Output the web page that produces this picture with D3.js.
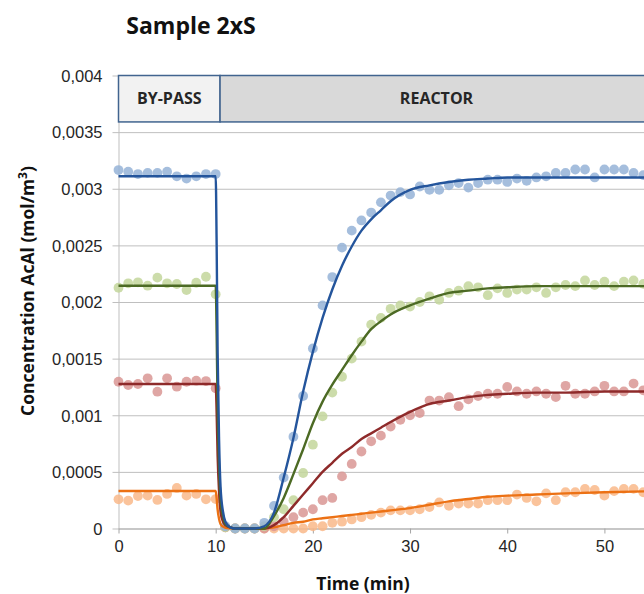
<!DOCTYPE html>
<html>
<head>
<meta charset="utf-8">
<script src="https://cdn.jsdelivr.net/npm/d3@7"></script>
<style>
	body { margin: 0; background: #ffffff; }
	#chart { position: absolute; left: 0; top: 0; width: 644px; height: 594px; overflow: hidden; }
</style>
</head>
<body>
<div id="chart"></div>
<script>
"use strict"

// measured samples, one per minute
var sampleTime = [0,1,2,3,4,5,6,7,8,9,10,11,12,13,14,15,16,17,18,19,20,21,22,23,24,25,26,27,
	28,29,30,31,32,33,34,35,36,37,38,39,40,41,42,43,44,45,46,47,48,49,50,51,52,53,54];

var blueSamples = [0.003165,0.00315,0.00313,0.00314,0.00314,0.00315,0.00311,0.00309,0.00311,0.00313,0.00313,
	0.00002,0,0,0,0.00005,0.0002,0.00045,0.00081,0.00117,0.00159,0.00197,0.00222,0.00248,0.00263,0.00272,
	0.00279,0.00288,0.00294,0.00297,0.00295,0.00302,0.00299,0.00299,0.00303,0.00305,0.00301,0.00305,0.00308,
	0.00308,0.00306,0.00309,0.00307,0.0031,0.00311,0.00314,0.00314,0.00317,0.00317,0.0031,0.00317,0.00317,
	0.00317,0.00314,0.00312];

var greenSamples = [0.002126,0.002165,0.002174,0.002144,0.002215,0.002165,0.002159,0.002106,0.00217,0.002223,0.002068,
	0.00001,0,0,0,0.00002,0.0001,0.00017,0.00025,0.00049,0.00074,0.00099,0.0012,0.00134,0.0015,0.00165,
	0.0018,0.00186,0.00194,0.00197,0.00196,0.002,0.00205,0.00202,0.00208,0.0021,0.00214,0.00213,0.00206,
	0.00212,0.00208,0.00211,0.00211,0.00213,0.00208,0.00213,0.00215,0.00214,0.00219,0.00215,0.00218,0.00214,
	0.00218,0.00219,0.00216];

var redSamples = [0.001296,0.001267,0.001276,0.001326,0.001208,0.001326,0.001252,0.001296,0.001305,0.001302,0.001238,
	0.00001,0,0,0,0,0.00002,0.00006,0.0001,0.00014,0.00017,0.00025,0.00027,0.00046,0.00057,0.00068,
	0.00077,0.00082,0.0009,0.00096,0.001,0.00102,0.00113,0.00113,0.00116,0.00108,0.00114,0.00117,0.00119,
	0.00119,0.00125,0.00121,0.00119,0.00121,0.00119,0.00116,0.00126,0.00119,0.00119,0.00121,0.00126,0.00121,
	0.00121,0.00128,0.00122];

var orangeSamples = [0.000258,0.000246,0.000287,0.00029,0.000252,0.000305,0.000358,0.00029,0.000305,0.000258,0.00026,
	0.00001,0,0,0,0,0,0,0,0,0.00002,0.00002,0.00005,0.00006,0.00008,0.0001,
	0.00012,0.00014,0.00016,0.00016,0.00016,0.00017,0.00019,0.00023,0.0002,0.00022,0.00022,0.00022,0.00025,
	0.00025,0.00025,0.0003,0.00027,0.00024,0.00031,0.00025,0.00032,0.00032,0.00035,0.00034,0.00029,0.00033,
	0.00035,0.00035,0.00032];

// model curves
var fitTime = [0,10,10.1,10.2,10.35,10.5,10.75,11,11.5,12,13,14,15,16,17,18,19,20,21,22,23,24,25,26,27,28,
	30,32,34,36,38,40,43,46,50,55];

var blueFit = [0.00311,0.00311,0.0025,0.00155,0.00078,0.00037,0.00015,0.00006,0.00001,0,0,0,0.00002,0.00014,
	0.00045,0.0008,0.00121,0.00156,0.00186,0.00211,0.00232,0.00249,0.00263,0.00273,0.00281,0.00289,
	0.00299,0.00303,0.00306,0.00308,0.00309,0.0031,0.0031,0.0031,0.0031,0.0031];

var greenFit = [0.002144,0.002144,0.00172,0.00107,0.00054,0.00026,0.00011,0.00004,0.00001,0,0,0,0,0.00011,
	0.00027,0.00048,0.0007,0.00093,0.00112,0.00127,0.0014,0.00153,0.00165,0.00176,0.00183,0.00189,
	0.00197,0.00203,0.00208,0.0021,0.00212,0.00213,0.00214,0.00214,0.00214,0.00214];

var redFit = [0.001276,0.001276,0.00102,0.00064,0.00032,0.00015,0.00006,0.00003,0.00001,0,0,0,0,0.00003,
	0.0001,0.0002,0.0003,0.0004,0.0005,0.00058,0.00066,0.00072,0.00079,0.00084,0.00089,0.00094,
	0.00103,0.0011,0.00113,0.00116,0.00118,0.00119,0.0012,0.0012,0.00121,0.00121];

var orangeFit = [0.000331,0.000331,0.000265,0.000166,0.000083,0.00004,0.000017,0.000007,0.000002,0,0,0,0,0.00001,
	0.00003,0.00005,0.00006,0.00008,0.00009,0.0001,0.00011,0.00012,0.00013,0.00014,0.00015,0.00016,
	0.00018,0.00021,0.00024,0.00026,0.00028,0.00029,0.0003,0.00031,0.00032,0.00033];

var yTicks = [0,0.0005,0.001,0.0015,0.002,0.0025,0.003,0.0035,0.004];
var xTicks = [0,10,20,30,40,50];

var phaseNames = ["BY-PASS", "REACTOR"];
var phaseStart = [0, 10.45];
var phaseEnd = [10.45, 55];
var phaseTop = 0.004;
var phaseBottom = 0.00359;

// drawn back to front: orange first, blue on top
var seriesSamples = [orangeSamples, redSamples, greenSamples, blueSamples];
var seriesFits = [orangeFit, redFit, greenFit, blueFit];
var dotColors = ["#f9b98a", "#d99694", "#c3d69b", "#95b3d7"];
var lineColors = ["#ec7114", "#8e2a2a", "#4c6a24", "#24559c"];

//
// chart object
//
function ConcentrationChart(sParentId) {
	this.sParentId = sParentId;
	this.width = 644;
	this.height = 594;
	this.left = 118.5;
	this.right = 653;
	this.top = 75.5;
	this.bottom = 528.5;
	this.font = "'Open Sans', 'Liberation Sans', sans-serif";
	this.create();
}

ConcentrationChart.prototype.create = function() {
	this.x = d3.scaleLinear().domain([0, 55]).range([this.left, this.right]);
	this.y = d3.scaleLinear().domain([0, 0.004]).range([this.bottom, this.top]);
	this.svg = d3.select("#" + this.sParentId)
		.append("svg")
		.attr("width", this.width)
		.attr("height", this.height)
		.style("font-family", this.font)
		;
	this.svg.append("rect")
		.attr("width", this.width)
		.attr("height", this.height)
		.attr("fill", "#ffffff")
		;
	this.drawAxes();
	this.drawPhases();
	this.drawSeries();
	this.drawTitles();
}

ConcentrationChart.prototype.drawAxes = function() {
	var x = this.x, y = this.y;
	var fmt = function(v) {
		return v == 0 ? "0" : String(+v.toFixed(4)).replace(".", ",");
	};
	var yAxis = d3.axisLeft(y)
		.tickValues(yTicks)
		.tickSize(-(this.right - this.left))
		.tickFormat(fmt)
		;
	var gy = this.svg.append("g")
		.attr("transform", "translate(" + this.left + ",0)")
		.call(yAxis)
		;
	gy.select(".domain").attr("stroke", "#bfbfbf");
	gy.selectAll(".tick line").attr("stroke", "#bfbfbf").attr("x1", -6);
	gy.selectAll(".tick text")
		.attr("x", -16)
		.attr("dy", "0.35em")
		.style("font-size", "16.5px")
		.attr("fill", "#262626")
		;

	var xAxis = d3.axisBottom(x)
		.tickValues(xTicks)
		.tickSize(5)
		.tickSizeOuter(0)
		;
	var gx = this.svg.append("g")
		.attr("transform", "translate(0," + this.bottom + ")")
		.call(xAxis)
		;
	gx.select(".domain").attr("stroke", "#bfbfbf");
	gx.selectAll(".tick line").attr("stroke", "#a6a6a6");
	gx.selectAll(".tick text")
		.attr("y", 12)
		.attr("dy", "0.71em")
		.style("font-size", "16.5px")
		.attr("fill", "#262626")
		;
}

ConcentrationChart.prototype.drawPhases = function() {
	var x = this.x, y = this.y;
	var fills = ["#f2f2f2", "#d9d9d9"];
	var g = this.svg.append("g");
	g.selectAll("rect")
		.data(phaseNames)
		.enter().append("rect")
		.attr("x", function(d, i) { return x(phaseStart[i]); })
		.attr("y", y(phaseTop))
		.attr("width", function(d, i) { return x(phaseEnd[i]) - x(phaseStart[i]); })
		.attr("height", y(phaseBottom) - y(phaseTop))
		.attr("fill", function(d, i) { return fills[i]; })
		.attr("stroke", "#41648f")
		.attr("stroke-width", 1.5)
		;
	g.selectAll("text")
		.data(phaseNames)
		.enter().append("text")
		.attr("x", function(d, i) { return (x(phaseStart[i]) + x(phaseEnd[i])) / 2; })
		.attr("y", (y(phaseTop) + y(phaseBottom)) / 2)
		.attr("dy", "0.35em")
		.attr("text-anchor", "middle")
		.style("font-size", "16px")
		.style("font-weight", "bold")
		.attr("fill", "#262626")
		.text(function(d) { return d; })
		;
}

ConcentrationChart.prototype.drawSeries = function() {
	var x = this.x, y = this.y;
	var gDots = this.svg.append("g");
	seriesSamples.forEach(function(vals, s) {
		gDots.append("g").selectAll("circle")
			.data(vals)
			.enter().append("circle")
			.attr("cx", function(d, i) { return x(sampleTime[i]); })
			.attr("cy", function(d) { return y(d); })
			.attr("r", 4.9)
			.attr("fill", dotColors[s])
			.attr("fill-opacity", 0.85)
			;
	});
	var line = d3.line()
		.x(function(d) { return x(d[0]); })
		.y(function(d) { return y(d[1]); })
		.curve(d3.curveMonotoneX)
		;
	var gLines = this.svg.append("g");
	seriesFits.forEach(function(vals, s) {
		gLines.append("path")
			.datum(vals.map(function(v, i) { return [fitTime[i], v]; }))
			.attr("d", line)
			.attr("fill", "none")
			.attr("stroke", lineColors[s])
			.attr("stroke-width", 2.4)
			.attr("stroke-linejoin", "round")
			;
	});
}

ConcentrationChart.prototype.drawTitles = function() {
	this.svg.append("text")
		.attr("x", 191)
		.attr("y", 34)
		.attr("text-anchor", "middle")
		.style("font-size", "23px")
		.style("font-weight", "bold")
		.attr("fill", "#111111")
		.text("Sample 2xS")
		;
	this.svg.append("text")
		.attr("x", 363)
		.attr("y", 590)
		.attr("text-anchor", "middle")
		.style("font-size", "17.5px")
		.style("font-weight", "bold")
		.attr("fill", "#111111")
		.text("Time (min)")
		;
	var yt = this.svg.append("text")
		.attr("transform", "translate(34,291) rotate(-90)")
		.attr("text-anchor", "middle")
		.style("font-size", "17.5px")
		.style("font-weight", "bold")
		.attr("fill", "#111111")
		;
	yt.append("tspan").text("Concentration AcAl (mol/m");
	yt.append("tspan").attr("dy", -7).style("font-size", "12px").text("3");
	yt.append("tspan").attr("dy", 7).text(")");
}

var m_Chart = new ConcentrationChart("chart");
</script>
</body>
</html>
